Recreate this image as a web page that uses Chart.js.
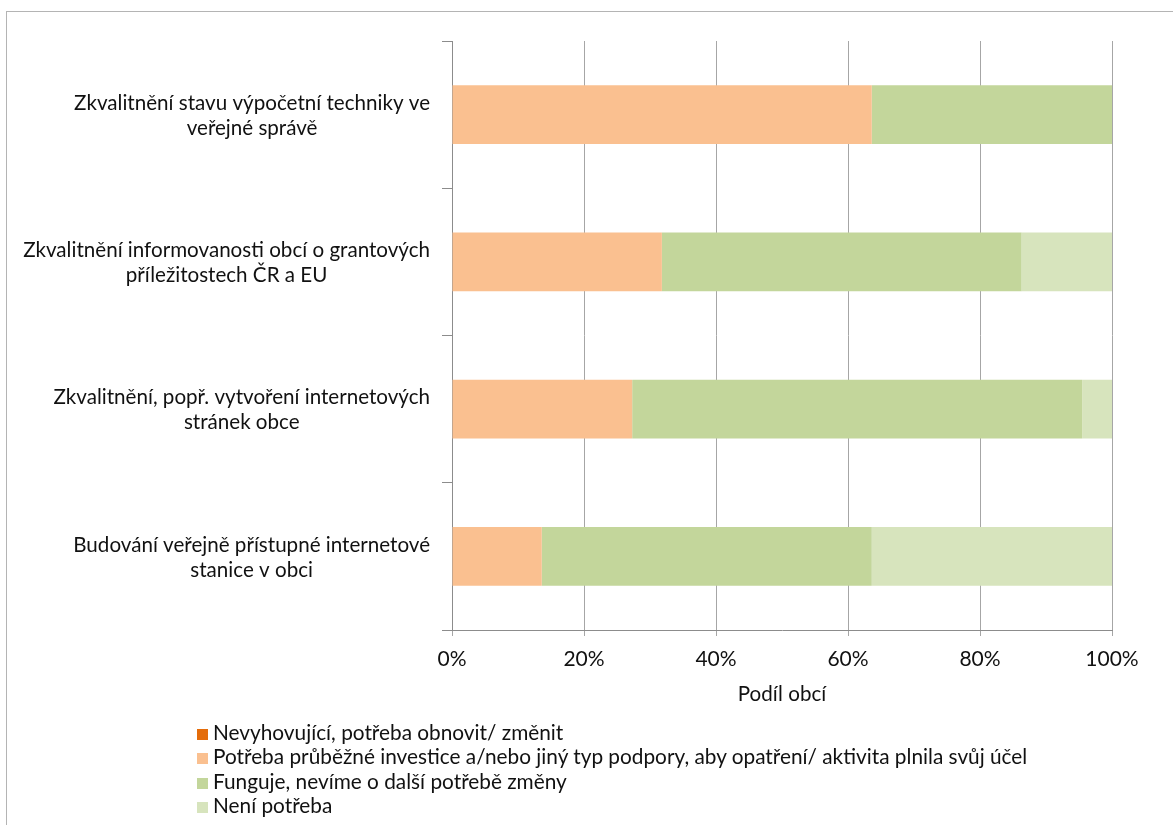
<!DOCTYPE html>
<html>
<head>
<meta charset="utf-8">
<script src="https://cdn.jsdelivr.net/npm/chart.js@4"></script>
<style>
  html, body { margin: 0; padding: 0; background: #fff; overflow: hidden; }
  #wrap { position: relative; width: 1173px; height: 825px; }
  #frame { position: absolute; left: 6px; top: 11px; width: 1300px; height: 900px; border: 1px solid #b4b4b4; box-sizing: border-box; }
  #chart { position: absolute; left: 0; top: 0; }
  #legend { position: absolute; left: 197px; top: 720px; font-family: Lato, sans-serif; font-size: 20.8px; color: #111; }
  #legend div { height: 24.3px; line-height: 24px; white-space: nowrap; }
  #legend span { display: inline-block; width: 11px; height: 11px; margin-right: 5px; vertical-align: 0px; }
</style>
</head>
<body>
<div id="wrap">
  <div id="frame"></div>
  <canvas id="chart" width="1173" height="825"></canvas>
  <div id="legend"></div>
</div>
<script>
// kategorie (shora dolu)
const categories = [
  ["Zkvalitnění stavu výpočetní techniky ve", "veřejné správě"],
  ["Zkvalitnění informovanosti obcí o grantových", "příležitostech ČR a EU"],
  ["Zkvalitnění, popř. vytvoření internetových", "stránek obce"],
  ["Budování veřejně přístupné internetové", "stanice v obci"],
]

const seriesNames = [
  "Nevyhovující, potřeba obnovit/ změnit",
  "Potřeba průběžné investice a/nebo jiný typ podpory, aby opatření/ aktivita plnila svůj účel",
  "Funguje, nevíme o další potřebě změny",
  "Není potřeba",
]

// podil obci v %
const nevyhovujici = [0, 0, 0, 0]
const investice = [63.6, 31.8, 27.3, 13.6]
const funguje = [36.4, 54.5, 68.2, 50.0]
const neniPotreba = [0, 13.7, 4.5, 36.4]

const xTicks = [0, 20, 40, 60, 80, 100]

const colors = ["#E46C0A", "#FAC090", "#C3D69B", "#D7E4BD"]
const FONT = "Lato, sans-serif"

// popisky osy Y - radky centrovane, zarovnane doprava k ose
const yLabelsPlugin = {
  id: "yLabels",
  afterDraw(chart) {
    const scale = chart.scales.y
    const ctx = chart.ctx
    ctx.save()
    ctx.font = "20.6px " + FONT
    ctx.fillStyle = "#111"
    ctx.textAlign = "center"
    ctx.textBaseline = "middle"
    const right = scale.right - 22
    const lh = 25
    categories.forEach((lines, i) => {
      const y = scale.getPixelForTick(i)
      const w = Math.max(...lines.map((l) => ctx.measureText(l).width))
      const cx = right - w / 2
      lines.forEach((l, j) => {
        ctx.fillText(l, cx, y + (j - (lines.length - 1) / 2) * lh + 1)
      })
    })
    ctx.restore()
  },
}

const datasets = [nevyhovujici, investice, funguje, neniPotreba].map((data, i) => ({
  label: seriesNames[i],
  data,
  backgroundColor: colors[i],
  borderWidth: 0,
  categoryPercentage: 1,
  barPercentage: 0.4,
}))

const chart = new Chart(document.getElementById("chart"), {
  type: "bar",
  data: { labels: categories.map((c) => c.join(" ")), datasets },
  options: {
    indexAxis: "y",
    responsive: false,
    animation: false,
    layout: { padding: { top: 41, right: 61, left: 0, bottom: 118 } },
    plugins: { legend: { display: false }, tooltip: { enabled: false } },
    scales: {
      x: {
        stacked: true,
        min: 0,
        max: 100,
        afterFit: (s) => { s.height = 77 },
        afterBuildTicks: (s) => { s.ticks = xTicks.map((v) => ({ value: v })) },
        ticks: {
          callback: (v) => v + "%",
          font: { family: FONT, size: 21 },
          color: "#111",
          padding: 11,
          maxRotation: 0,
        },
        grid: { color: "#a6a6a6", lineWidth: 1, tickLength: 6 },
        border: { color: "#8c8c8c" },
        title: {
          display: true,
          text: "Podíl obcí",
          font: { family: FONT, size: 20.6 },
          color: "#111",
          padding: { top: 4, bottom: 0 },
        },
      },
      y: {
        stacked: true,
        afterFit: (s) => { s.width = 452 },
        ticks: { display: false },
        grid: { offset: true, drawOnChartArea: false, drawTicks: true, tickLength: 10, color: "#8c8c8c" },
        border: { color: "#8c8c8c" },
      },
    },
  },
  plugins: [yLabelsPlugin],
})

const legend = document.getElementById("legend")
seriesNames.forEach((name, i) => {
  const row = document.createElement("div")
  const box = document.createElement("span")
  box.style.background = colors[i]
  row.appendChild(box)
  row.appendChild(document.createTextNode(name))
  legend.appendChild(row)
})
</script>
</body>
</html>
